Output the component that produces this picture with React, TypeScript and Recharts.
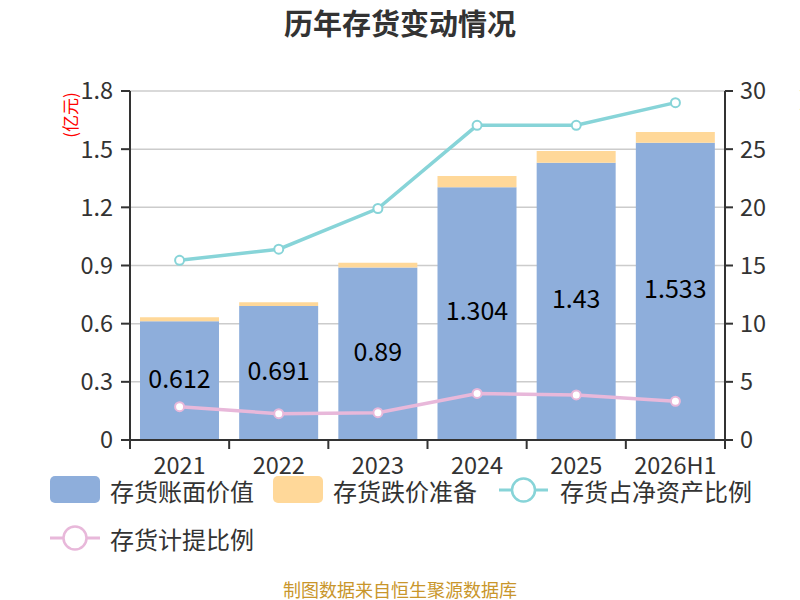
import React from 'react';
import { ComposedChart, Bar, Line, XAxis, YAxis, CartesianGrid, LabelList } from 'recharts';

const categories = ['2021', '2022', '2023', '2024', '2025', '2026H1'];
const bookValue = [0.612, 0.691, 0.89, 1.304, 1.43, 1.533];
const reserveValue = [0.021, 0.019, 0.024, 0.057, 0.06, 0.055];
const netAssetRatio = [15.45, 16.4, 19.9, 27.05, 27.05, 29.0];
const provisionRatio = [2.86, 2.26, 2.35, 4.0, 3.87, 3.33];

const leftTicks = [0, 0.3, 0.6, 0.9, 1.2, 1.5, 1.8];
const rightTicks = [0, 5, 10, 15, 20, 25, 30];

const seriesNames = ['存货账面价值', '存货跌价准备', '存货占净资产比例', '存货计提比例'];
const title = '历年存货变动情况';
const footer = '制图数据来自恒生聚源数据库';
const leftUnit = '(亿元)';
const rightUnit = '(%)';

const BLUE = '#8eaedb';
const YELLOW = '#ffd899';
const TEAL = '#87d4d8';
const PINK = '#e8b8da';
const FONT = '"Noto Sans CJK SC", "Noto Sans", sans-serif';

const data = categories.map((c, i) => ({
  name: c,
  book: bookValue[i],
  reserve: reserveValue[i],
  ratio: netAssetRatio[i],
  prov: provisionRatio[i],
}));

const XTick = (props: any) => {
  const { x, y, payload, index, visibleTicksCount } = props;
  const off = payload && typeof payload.offset === 'number' && payload.offset > 0 ? payload.offset : 595 / 12;
  const last = (visibleTicksCount ?? categories.length) - 1;
  return (
    <g>
      <line x1={x - off} x2={x - off} y1={y} y2={y + 9} stroke="#333" strokeWidth={2} />
      {index === last && <line x1={x + off} x2={x + off} y1={y} y2={y + 9} stroke="#333" strokeWidth={2} />}
      <text x={x} y={y + 34} textAnchor="middle" fontSize={23.5} fill="#333" fontFamily={FONT}>
        {payload.value}
      </text>
    </g>
  );
};

export default function App() {
  return (
    <div style={{ position: 'absolute', left: 0, top: 0, width: 800, height: 600, background: '#fff' }}>
      <ComposedChart
        width={800}
        height={600}
        data={data}
        margin={{ top: 91, right: 15, left: 50, bottom: 120 }}
        barCategoryGap={0}
      >
        <CartesianGrid yAxisId="left" vertical={false} stroke="#cccccc" strokeWidth={1.5} />
        <XAxis
          dataKey="name"
          height={40}
          tickSize={0}
          tickMargin={0}
          tickLine={false}
          axisLine={{ stroke: '#333', strokeWidth: 2 }}
          tick={<XTick />}
          interval={0}
        />
        <YAxis
          yAxisId="left"
          domain={[0, 1.8]}
          ticks={leftTicks}
          width={80}
          tickSize={9}
          tickMargin={8}
          interval={0}
          tickFormatter={(v: number) => (v === 0 ? '0' : v.toFixed(1))}
          axisLine={{ stroke: '#333', strokeWidth: 2 }}
          tickLine={{ stroke: '#333', strokeWidth: 2 }}
          tick={{ fontSize: 23.5, fill: '#333', fontFamily: FONT }}
        />
        <YAxis
          yAxisId="right"
          orientation="right"
          domain={[0, 30]}
          ticks={rightTicks}
          width={60}
          tickSize={8}
          tickMargin={7}
          interval={0}
          axisLine={{ stroke: '#333', strokeWidth: 2 }}
          tickLine={{ stroke: '#333', strokeWidth: 2 }}
          tick={{ fontSize: 23.5, fill: '#333', fontFamily: FONT }}
        />
        <Bar yAxisId="left" dataKey="book" stackId="a" fill={BLUE} barSize={79} isAnimationActive={false}>
          <LabelList dataKey="book" position="center" fill="#000" fontSize={25} fontFamily={FONT} dy={-2} />
        </Bar>
        <Bar yAxisId="left" dataKey="reserve" stackId="a" fill={YELLOW} barSize={79} isAnimationActive={false} />
        <Line
          yAxisId="right"
          dataKey="ratio"
          type="linear"
          stroke={TEAL}
          strokeWidth={3.5}
          dot={{ r: 4.5, fill: '#fff', stroke: TEAL, strokeWidth: 2 }}
          activeDot={false}
          isAnimationActive={false}
        />
        <Line
          yAxisId="right"
          dataKey="prov"
          type="linear"
          stroke={PINK}
          strokeWidth={3.5}
          dot={{ r: 4.5, fill: '#fff', stroke: PINK, strokeWidth: 2 }}
          activeDot={false}
          isAnimationActive={false}
        />
      </ComposedChart>
      <svg
        width={800}
        height={600}
        style={{ position: 'absolute', left: 0, top: 0, pointerEvents: 'none' }}
        fontFamily={FONT}
      >
        <text x={400} y={22} textAnchor="middle" dominantBaseline="central" fontSize={29} fontWeight="bold" fill="#333">
          {title}
        </text>
        <text x={69} y={115} textAnchor="middle" dominantBaseline="central" fontSize={17} fill="#ff0000" transform="rotate(-90 69 115)">
          {leftUnit}
        </text>
        <text x={806} y={100} textAnchor="middle" dominantBaseline="central" fontSize={17} fill="#ff0000" transform="rotate(-90 806 100)">
          {rightUnit}
        </text>
        {/* legend */}
        <rect x={50} y={476} width={50} height={27} rx={5} fill={BLUE} />
        <text x={110} y={490} dominantBaseline="central" fontSize={24} fill="#333">{seriesNames[0]}</text>
        <rect x={273} y={476} width={50} height={27} rx={5} fill={YELLOW} />
        <text x={333} y={490} dominantBaseline="central" fontSize={24} fill="#333">{seriesNames[1]}</text>
        <line x1={499} x2={548} y1={490} y2={490} stroke={TEAL} strokeWidth={3} />
        <circle cx={523.5} cy={490} r={11.5} fill="#fff" stroke={TEAL} strokeWidth={2.5} />
        <text x={560} y={490} dominantBaseline="central" fontSize={24} fill="#333">{seriesNames[2]}</text>
        <line x1={50} x2={100} y1={538} y2={538} stroke={PINK} strokeWidth={3} />
        <circle cx={75} cy={538} r={11.5} fill="#fff" stroke={PINK} strokeWidth={2.5} />
        <text x={110} y={538} dominantBaseline="central" fontSize={24} fill="#333">{seriesNames[3]}</text>
        <text x={400} y={589} textAnchor="middle" dominantBaseline="central" fontSize={18} fill="#c9962b">
          {footer}
        </text>
      </svg>
    </div>
  );
}
